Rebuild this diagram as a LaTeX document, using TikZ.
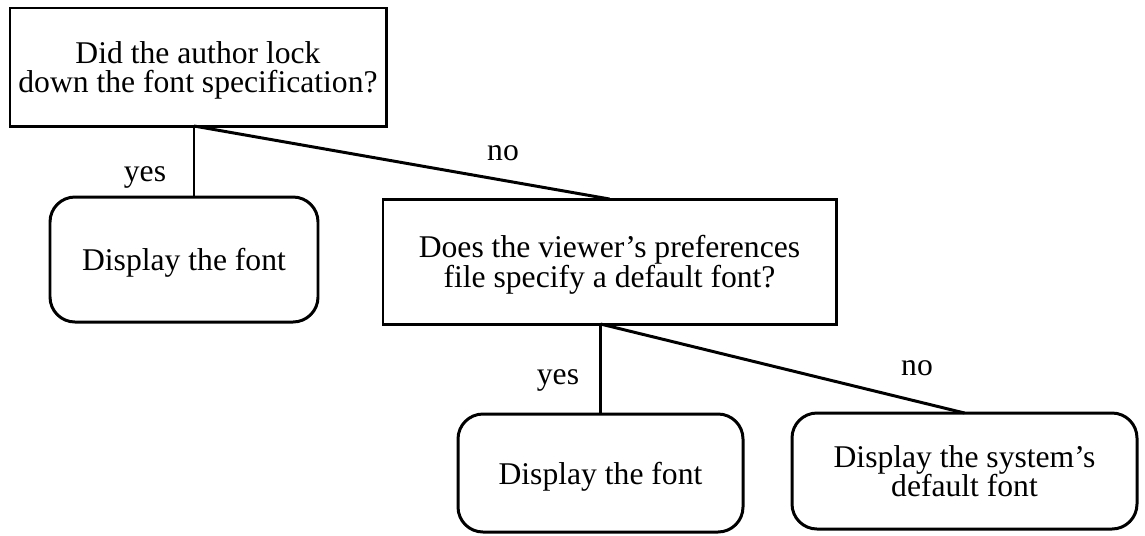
\documentclass[tikz,border=0pt]{standalone}
\usepackage{fontspec}
\setmainfont{Liberation Serif}
\usepackage{tikz}

\begin{document}
\begin{tikzpicture}[x=0.02cm, y=-0.02cm, line width=1.7pt,
  every node/.style={font=\fontsize{18}{17}\selectfont, align=center, inner sep=0pt, outer sep=0pt},
  question/.style={draw, rectangle, text depth=0pt},
  answer/.style={draw, rounded corners=0.5cm, text depth=0pt}]
\useasboundingbox (0,0) rectangle (1145,535);

\node[question, minimum width=376*0.02cm, minimum height=118*0.02cm] (lock) at (198,67) {Did the author lock\\down the font specification?};
\node[answer, minimum width=268*0.02cm, minimum height=125*0.02cm] (show1) at (184,259.5) {Display the font};
\node[question, minimum width=453*0.02cm, minimum height=125*0.02cm] (prefs) at (609.5,261.5) {Does the viewer's preferences\\file specify a default font?};
\node[answer, minimum width=285*0.02cm, minimum height=118*0.02cm] (show2) at (600.5,473) {Display the font};
\node[answer, minimum width=345*0.02cm, minimum height=116*0.02cm] (sysfont) at (964.5,471) {Display the system's\\default font};

\coordinate (fork) at (194,126);
\draw (fork) -- (fork |- show1.north);
\draw (fork) -- (prefs.north);
\draw (prefs.south -| show2.north) -- (show2.north);
\draw (prefs.south -| show2.north) -- (sysfont.north);

\node (yes1) at (145,177) {yes};
\node (no1) at (503,153) {no};
\node (yes2) at (558,380) {yes};
\node (no2) at (917,368) {no};
\end{tikzpicture}
\end{document}
